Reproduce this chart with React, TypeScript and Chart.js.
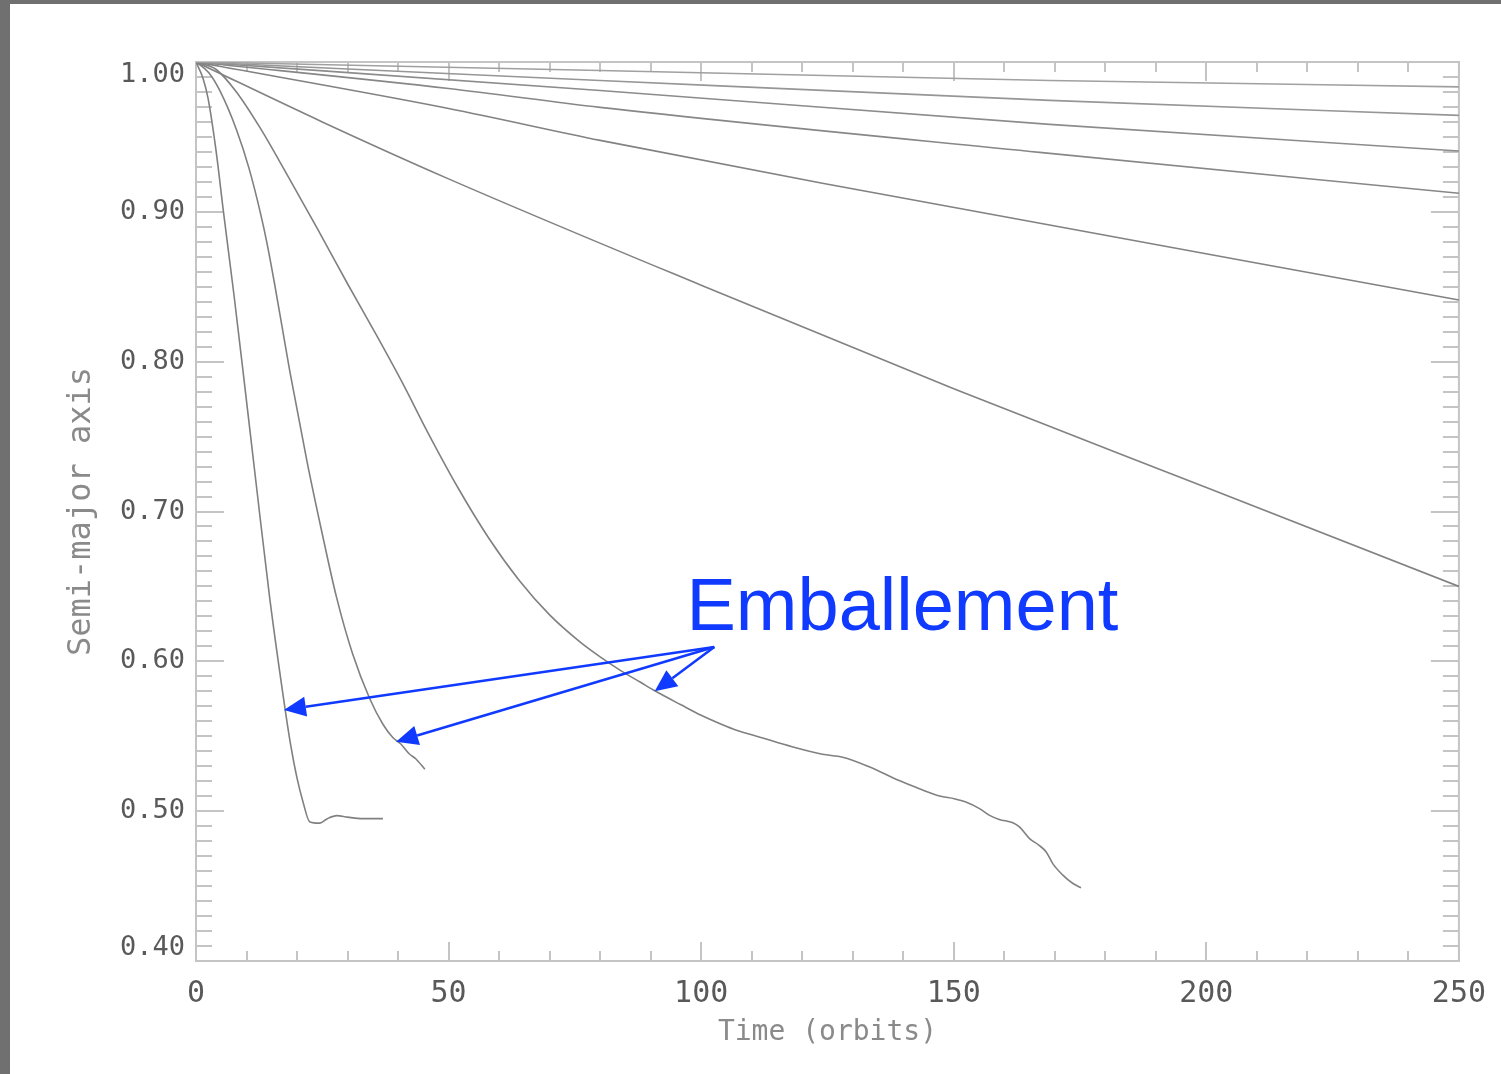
import React, { useEffect, useRef } from 'react';
import { Chart, registerables } from 'chart.js';

Chart.register(...registerables);

// ---- axis tick values ----
const X_TICKS = [0, 50, 100, 150, 200, 250];
const Y_TICKS = [0.4, 0.5, 0.6, 0.7, 0.8, 0.9, 1.0];

// ---- slow (gradual) migrations: time (orbits) / semi-major axis ----
const slow1T = [0, 80, 169, 250];
const slow1A = [1.0, 0.9943, 0.9877, 0.9834];
const slow2T = [0, 80, 169, 250];
const slow2A = [1.0, 0.9877, 0.9744, 0.9644];
const slow3T = [0, 80, 169, 250];
const slow3A = [1.0, 0.981, 0.9584, 0.9406];
const slow4T = [0, 50, 80, 167, 250];
const slow4A = [1.0, 0.9823, 0.9697, 0.9397, 0.9124];
const slow5T = [0, 50, 80, 124, 250];
const slow5A = [1.0, 0.969, 0.9477, 0.9191, 0.8412];
const slow6T = [0, 25, 50, 100, 150, 200, 250];
const slow6A = [1.0, 0.96, 0.922, 0.851, 0.782, 0.716, 0.65];

// ---- runaway migrations ----
const fastT = [0, 1.4, 2.4, 4, 5.4, 7.5, 9.4, 12.1, 14.6, 17.6, 18.8, 20, 21.2, 22.5, 24.5, 26, 27.9, 30, 33, 37];
const fastA = [1.0, 0.989, 0.9755, 0.94, 0.901, 0.845, 0.791, 0.713, 0.642, 0.569, 0.543, 0.522, 0.506, 0.493, 0.492, 0.495, 0.497, 0.496, 0.495, 0.495];

const midT = [0, 2.5, 4.7, 8.1, 10.5, 12.7, 14, 15.5, 17, 18.6, 22, 25, 27.8, 31, 34.4, 37, 39, 40.5, 42.3, 43.5, 45.3];
const midA = [1.0, 0.993, 0.981, 0.954, 0.929, 0.9, 0.88, 0.853, 0.824, 0.793, 0.733, 0.685, 0.643, 0.605, 0.575, 0.558, 0.549, 0.545, 0.538, 0.535, 0.528];

const slowRunT = [0, 4, 8, 12.7, 18, 24, 30, 36, 41, 46, 52, 58, 64, 70, 76, 80, 84, 88, 91, 96, 100, 104, 107, 112, 118, 124, 128, 133, 139.2, 143.2, 147.2, 150.1, 152.4, 155.1, 157.1, 159, 161.7, 163, 165, 166.9, 168.3, 169.6, 171.6, 173.6, 175.2];
const slowRunA = [1.0, 0.995, 0.98, 0.956, 0.925, 0.889, 0.852, 0.816, 0.785, 0.752, 0.715, 0.682, 0.654, 0.631, 0.613, 0.603, 0.594, 0.586, 0.58, 0.571, 0.564, 0.558, 0.554, 0.549, 0.543, 0.538, 0.536, 0.53, 0.5204, 0.515, 0.5101, 0.5083, 0.5061, 0.5017, 0.4972, 0.4945, 0.4923, 0.4895, 0.4817, 0.4772, 0.4728, 0.465, 0.4573, 0.4517, 0.4489];

// ---- annotation ----
const ANNOT_TEXT = 'Emballement';
const ANNOT_TEXT_POS = [97.1, 0.621];
const ARROW_FROM = [102.6, 0.6096];
const ARROW_TIPS = [
  [17.4, 0.5676],
  [39.6, 0.5463],
  [90.8, 0.58],
];

const SERIES = [
  { t: slow1T, a: slow1A, c: 'rgb(160,160,160)' },
  { t: slow2T, a: slow2A, c: 'rgb(150,150,150)' },
  { t: slow3T, a: slow3A, c: 'rgb(140,140,140)' },
  { t: slow4T, a: slow4A, c: 'rgb(135,135,135)' },
  { t: slow5T, a: slow5A, c: 'rgb(130,130,130)' },
  { t: slow6T, a: slow6A, c: 'rgb(130,130,130)' },
  { t: fastT, a: fastA, c: 'rgb(128,128,128)' },
  { t: midT, a: midA, c: 'rgb(128,128,128)' },
  { t: slowRunT, a: slowRunA, c: 'rgb(128,128,128)' },
];

const AXIS_COLOR = '#c4c4c4';
const LABEL_COLOR = '#595959';
const TITLE_COLOR = '#8a8a8a';
const BLUE = 'rgb(16,58,255)';

const framePlugin = {
  id: 'idlFrame',
  beforeDatasetsDraw(chart: any) {
    const { ctx, chartArea } = chart;
    const { left, right, top, bottom } = chartArea;
    const xs = chart.scales.x;
    const ys = chart.scales.y;
    ctx.save();
    ctx.strokeStyle = AXIS_COLOR;
    ctx.lineWidth = 2;
    ctx.beginPath();
    ctx.rect(left, top, right - left, bottom - top);
    ctx.stroke();
    ctx.beginPath();
    // x ticks every 10, major every 50
    for (let i = 0; i <= 25; i++) {
      const v = i * 10;
      const px = Math.round(xs.getPixelForValue(v));
      const len = i % 5 === 0 ? 19 : 10;
      ctx.moveTo(px, bottom);
      ctx.lineTo(px, bottom - len);
      ctx.moveTo(px, top);
      ctx.lineTo(px, top + len);
    }
    // y ticks every 0.01, major every 0.1
    for (let i = 40; i <= 100; i++) {
      const v = i / 100;
      const py = Math.round(ys.getPixelForValue(v));
      const len = i % 10 === 0 ? 28 : 16;
      ctx.moveTo(left, py);
      ctx.lineTo(left + len, py);
      ctx.moveTo(right, py);
      ctx.lineTo(right - len, py);
    }
    ctx.stroke();
    ctx.restore();
  },
};

const annotationPlugin = {
  id: 'emballement',
  afterDatasetsDraw(chart: any) {
    const { ctx } = chart;
    const xs = chart.scales.x;
    const ys = chart.scales.y;
    ctx.save();
    ctx.fillStyle = BLUE;
    ctx.strokeStyle = BLUE;
    ctx.font = '74px "Liberation Sans", Arial, sans-serif';
    ctx.textAlign = 'left';
    ctx.textBaseline = 'alphabetic';
    ctx.fillText(ANNOT_TEXT, xs.getPixelForValue(ANNOT_TEXT_POS[0]), ys.getPixelForValue(ANNOT_TEXT_POS[1]));
    const ox = xs.getPixelForValue(ARROW_FROM[0]);
    const oy = ys.getPixelForValue(ARROW_FROM[1]);
    ctx.lineWidth = 2.5;
    ARROW_TIPS.forEach(([t, a]) => {
      const tx = xs.getPixelForValue(t);
      const ty = ys.getPixelForValue(a);
      const ang = Math.atan2(ty - oy, tx - ox);
      const headLen = 22;
      const headHalf = 10;
      const bx = tx - headLen * Math.cos(ang);
      const by = ty - headLen * Math.sin(ang);
      ctx.beginPath();
      ctx.moveTo(ox, oy);
      ctx.lineTo(bx, by);
      ctx.stroke();
      ctx.beginPath();
      ctx.moveTo(tx, ty);
      ctx.lineTo(bx + headHalf * Math.sin(ang), by - headHalf * Math.cos(ang));
      ctx.lineTo(bx - headHalf * Math.sin(ang), by + headHalf * Math.cos(ang));
      ctx.closePath();
      ctx.fill();
    });
    ctx.restore();
  },
};

export default function App() {
  const canvasRef = useRef<HTMLCanvasElement | null>(null);

  useEffect(() => {
    const canvas = canvasRef.current;
    if (!canvas) return;
    const chart = new Chart(canvas, {
      type: 'line',
      data: {
        datasets: SERIES.map((s) => ({
          data: s.t.map((t, i) => ({ x: t, y: s.a[i] })),
          borderColor: s.c,
          borderWidth: 1.6,
          pointRadius: 0,
          fill: false,
          tension: 0.3,
          cubicInterpolationMode: 'monotone',
        })),
      },
      options: {
        responsive: false,
        animation: false,
        devicePixelRatio: 1,
        layout: { padding: { left: 0, top: 62, right: 41, bottom: 0 } },
        plugins: {
          legend: { display: false },
          tooltip: { enabled: false },
        },
        scales: {
          x: {
            type: 'linear',
            min: 0,
            max: 250,
            afterBuildTicks: (s: any) => {
              s.ticks = X_TICKS.map((v) => ({ value: v }));
            },
            afterFit: (s: any) => {
              s.height = 113;
            },
            grid: { display: false, drawTicks: false },
            border: { display: false },
            ticks: {
              autoSkip: false,
              maxRotation: 0,
              padding: 15,
              color: LABEL_COLOR,
              font: { family: '"DejaVu Sans Mono", monospace', size: 30 },
              callback: (v: any) => String(v),
            },
            title: {
              display: true,
              text: 'Time (orbits)',
              color: TITLE_COLOR,
              font: { family: '"DejaVu Sans Mono", monospace', size: 28 },
              padding: { top: 0, bottom: 24 },
            },
          },
          y: {
            type: 'linear',
            min: 0.4,
            max: 1.0,
            afterBuildTicks: (s: any) => {
              s.ticks = Y_TICKS.map((v) => ({ value: v }));
            },
            afterFit: (s: any) => {
              s.width = 196;
            },
            grid: { display: false, drawTicks: false },
            border: { display: false },
            ticks: {
              autoSkip: false,
              padding: 11,
              color: LABEL_COLOR,
              font: { family: '"DejaVu Sans Mono", monospace', size: 27, lineHeight: 0.963 },
              callback: (v: any) => {
                const n = Number(v);
                const s = n.toFixed(2);
                if (n === Y_TICKS[Y_TICKS.length - 1]) return ['', s];
                if (n === Y_TICKS[0]) return [s, ''];
                return s;
              },
            },
            title: {
              display: true,
              text: 'Semi-major axis',
              color: TITLE_COLOR,
              font: { family: '"DejaVu Sans Mono", monospace', size: 32 },
              padding: { top: 62, bottom: 0 },
            },
          },
        },
      } as any,
      plugins: [framePlugin, annotationPlugin],
    });
    return () => chart.destroy();
  }, []);

  return (
    <div
      style={{
        position: 'fixed',
        left: 0,
        top: 0,
        width: 1501,
        height: 1074,
        background: '#707070',
        overflow: 'hidden',
      }}
    >
      <div
        style={{
          position: 'absolute',
          left: 10,
          top: 4,
          right: 0,
          bottom: 0,
          background: '#ffffff',
        }}
      />
      <canvas
        ref={canvasRef}
        width={1501}
        height={1074}
        style={{ position: 'absolute', left: 0, top: 0, width: 1501, height: 1074 }}
      />
    </div>
  );
}
